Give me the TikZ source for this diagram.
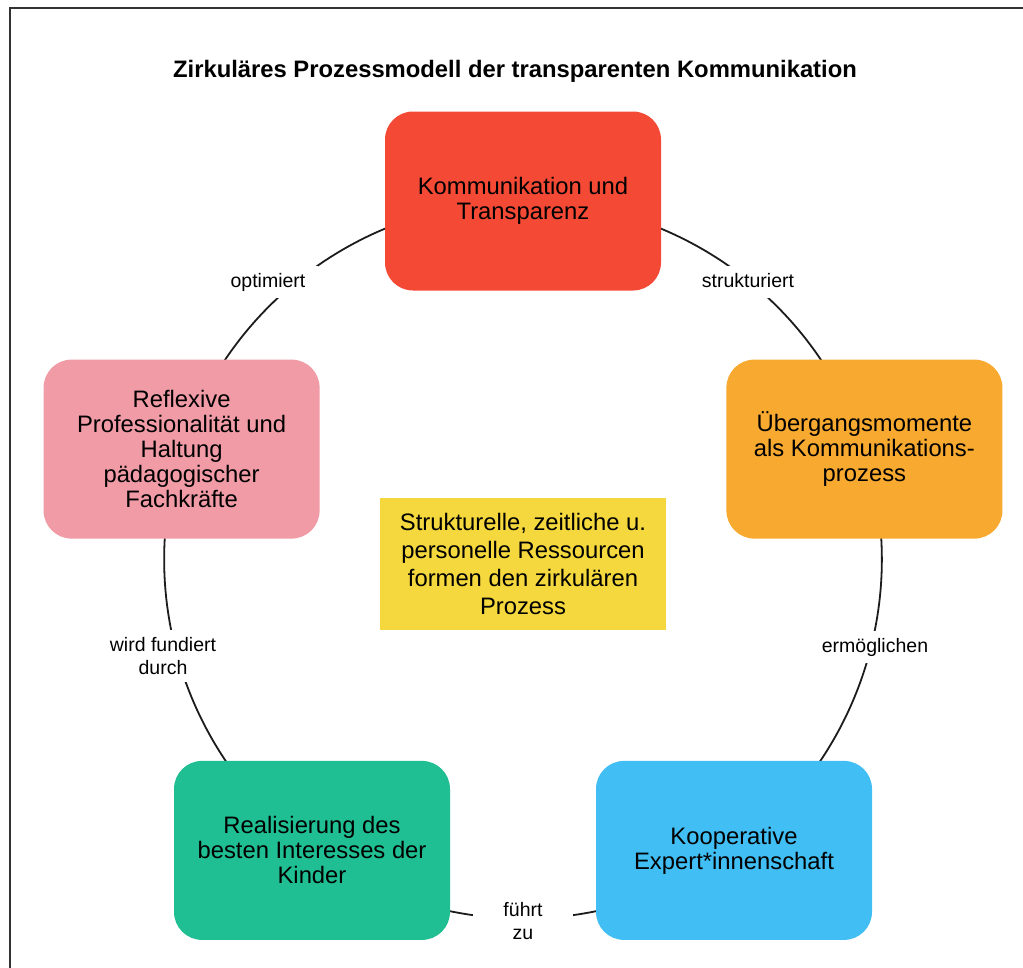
\documentclass[tikz,border=0pt]{standalone}
\usepackage{fontspec}
\setmainfont{Liberation Sans}
\usetikzlibrary{backgrounds}
\definecolor{cred}{HTML}{F44A35}
\definecolor{corange}{HTML}{F7A930}
\definecolor{cblue}{HTML}{41BEF3}
\definecolor{cgreen}{HTML}{20BF93}
\definecolor{cpink}{HTML}{F09BA6}
\definecolor{cyellow}{HTML}{F4D83D}
\definecolor{cline}{HTML}{1C1C1C}
\begin{document}
\begin{tikzpicture}[x=1pt,y=-1pt,
  box/.style={rounded corners=28pt, minimum width=276pt, minimum height=179pt,
    align=center, inner sep=0pt, font=\fontsize{23.8}{25}\selectfont},
  centerbox/.style={minimum width=286pt, minimum height=132pt, align=center,
    inner sep=0pt, fill=cyellow, font=\fontsize{23.8}{27.8}\selectfont},
  lbl/.style={fill=white, align=center, font=\fontsize{19.5}{23.5}\selectfont,
    inner xsep=10pt, inner ysep=7pt, minimum width=100pt},
  lblone/.style={lbl, text height=14pt, text depth=4pt},
  arcline/.style={line width=1.8pt, draw=cline},
  frameline/.style={line width=2pt, draw=black!80}]
\useasboundingbox (0,0) rectangle (1023,967);
\draw[frameline] (1030,8) -- (9.5,8) -- (9.5,975);
\node[anchor=base, font=\fontsize{23.8}{28}\selectfont\bfseries] (title) at (515,77)
  {Zirkuläres Prozessmodell der transparenten Kommunikation};
\node[box, fill=cred] (komm) at (523,201) {Kommunikation und\\Transparenz};
\node[box, fill=corange] (ueber) at (864.4,449.1) {Übergangsmomente\\als Kommunikations-\\prozess};
\node[box, fill=cblue] (koop) at (734,850.4) {Kooperative\\Expert*innenschaft};
\node[box, fill=cgreen] (real) at (312,850.4) {Realisierung des\\besten Interesses der\\Kinder};
\node[box, fill=cpink] (refl) at (181.6,449.1) {Reflexive\\Professionalität und\\Haltung\\pädagogischer\\Fachkräfte};
\node[centerbox] (ress) at (523,564) {Strukturelle, zeitliche u.\\personelle Ressourcen\\formen den zirkulären\\Prozess};
\begin{pgfonlayer}{background}
\draw[arcline] (komm.center) to[bend left=36, looseness=0.94] (ueber.center);
\draw[arcline] (ueber.center) to[bend left=36, looseness=0.94] (koop.center);
\draw[arcline] (koop.center) to[bend left=36, looseness=0.94] (real.center);
\draw[arcline] (real.center) to[bend left=36, looseness=0.94] (refl.center);
\draw[arcline] (refl.center) to[bend left=36, looseness=0.94] (komm.center);
\end{pgfonlayer}
\node[lblone] (lstruk) at (748,282) {strukturiert};
\node[lblone] (lermo) at (875,647) {ermöglichen};
\node[lbl] (lfuehrt) at (523,921) {führt\\zu};
\node[lbl] (lwird) at (163,656) {wird fundiert\\durch};
\node[lblone] (lopti) at (268,282) {optimiert};
\end{tikzpicture}
\end{document}
